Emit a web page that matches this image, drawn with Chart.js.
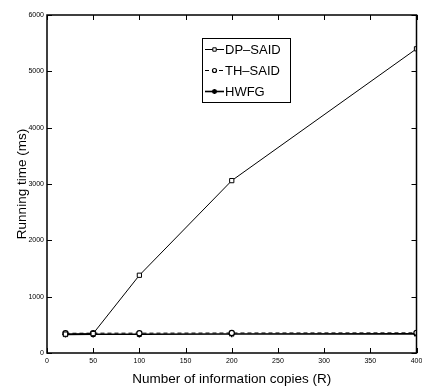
<!DOCTYPE html>
<html>
<head>
<meta charset="utf-8">
<script src="https://cdn.jsdelivr.net/npm/chart.js@4"></script>
<style>
  html, body { margin: 0; padding: 0; background: #fff; }
  #wrap { width: 422px; height: 387px; }
</style>
</head>
<body>
<div id="wrap"><canvas id="myChart" width="422" height="387"></canvas></div>
<script>
const copies = [20, 50, 100, 200, 400];
const dpSaid = [335, 345, 1380, 3060, 5400];
const thSaid = [350, 352, 352, 355, 358];
const hwfg = [330, 332, 333, 336, 340];
const xTicks = [0, 50, 100, 150, 200, 250, 300, 350, 400];
const yTicks = [0, 1000, 2000, 3000, 4000, 5000, 6000];

const FONT = 'Liberation Sans, Arial, sans-serif';

const toPoints = (ys) => copies.map((x, i) => ({x: x, y: ys[i]}));

const data = {
    datasets: [
        {
            label: 'DP\u2013SAID',
            data: toPoints(dpSaid),
            borderColor: '#000',
            backgroundColor: '#fff',
            borderWidth: 1,
            pointStyle: 'rect',
            pointRadius: 3,
            pointBorderWidth: 1,
        },
        {
            label: 'TH\u2013SAID',
            data: toPoints(thSaid),
            borderColor: '#000',
            backgroundColor: '#fff',
            borderWidth: 1,
            borderDash: [4, 3],
            pointStyle: 'circle',
            pointRadius: 2.6,
            pointBorderWidth: 1.2,
        },
        {
            label: 'HWFG',
            data: toPoints(hwfg),
            borderColor: '#000',
            backgroundColor: '#000',
            borderWidth: 1.6,
            pointStyle: 'star',
            pointRadius: 3.2,
            pointBorderWidth: 1.5,
        }
    ]
};

// inward tick marks on all four sides plus the closing box
const boxTicks = {
    id: 'boxTicks',
    afterDatasetsDraw(chart) {
        const {ctx, chartArea: a, scales: {x, y}} = chart;
        ctx.save();
        ctx.strokeStyle = '#000';
        ctx.lineWidth = 1;
        ctx.beginPath();
        xTicks.forEach(v => {
            const px = Math.round(x.getPixelForValue(v)) + 0.5;
            ctx.moveTo(px, a.bottom); ctx.lineTo(px, a.bottom - 5);
            ctx.moveTo(px, a.top); ctx.lineTo(px, a.top + 5);
        });
        yTicks.forEach(v => {
            const py = Math.round(y.getPixelForValue(v)) + 0.5;
            ctx.moveTo(a.left, py); ctx.lineTo(a.left + 5, py);
            ctx.moveTo(a.right, py); ctx.lineTo(a.right - 5, py);
        });
        ctx.stroke();
        ctx.lineWidth = 1.5;
        ctx.strokeRect(a.left, a.top, a.right - a.left, a.bottom - a.top);
        ctx.restore();
    }
};

// legend box drawn inside the plot area
const innerLegend = {
    id: 'innerLegend',
    afterDraw(chart) {
        const ctx = chart.ctx;
        const bx = 202, by = 38, bw = 88, bh = 64;
        ctx.save();
        ctx.fillStyle = '#fff';
        ctx.fillRect(bx, by, bw, bh);
        ctx.strokeStyle = '#000';
        ctx.lineWidth = 1;
        ctx.strokeRect(bx + 0.5, by + 0.5, bw, bh);
        chart.data.datasets.forEach((ds, i) => {
            const cy = by + 11.5 + i * 21;
            ctx.strokeStyle = '#000';
            ctx.lineWidth = ds.borderWidth;
            ctx.setLineDash(ds.borderDash || []);
            ctx.beginPath();
            ctx.moveTo(bx + 3, cy);
            ctx.lineTo(bx + 22, cy);
            ctx.stroke();
            ctx.setLineDash([]);
            ctx.lineWidth = ds.pointBorderWidth;
            ctx.fillStyle = ds.backgroundColor;
            Chart.helpers.drawPoint(ctx, {
                pointStyle: ds.pointStyle,
                radius: ds.pointRadius - 0.6,
                borderWidth: ds.pointBorderWidth,
                rotation: 0
            }, bx + 12.5, cy);
            ctx.fillStyle = '#000';
            ctx.font = '13px ' + FONT;
            ctx.textBaseline = 'middle';
            ctx.textAlign = 'left';
            ctx.fillText(ds.label, bx + 23, cy + 1);
        });
        ctx.restore();
    }
};

const config = {
    type: 'line',
    data: data,
    options: {
        responsive: false,
        animation: false,
        layout: {padding: {top: 15, right: 5, left: 13, bottom: 0}},
        plugins: {
            legend: {display: false},
            tooltip: {enabled: false}
        },
        scales: {
            x: {
                type: 'linear',
                min: 0,
                max: 400,
                afterBuildTicks: (s) => { s.ticks = xTicks.map(v => ({value: v})); },
                afterFit: (s) => { s.height = 34; s.paddingRight = 0; s.paddingLeft = 0; },
                grid: {display: false, drawTicks: false},
                border: {display: false},
                ticks: {
                    padding: 4,
                    maxRotation: 0,
                    autoSkip: false,
                    color: '#000',
                    font: {family: FONT, size: 7}
                },
                title: {
                    display: true,
                    text: 'Number of information copies (R)',
                    color: '#000',
                    padding: {top: 0, bottom: 0},
                    font: {family: FONT, size: 13.5}
                }
            },
            y: {
                min: 0,
                max: 6000,
                afterBuildTicks: (s) => { s.ticks = yTicks.map(v => ({value: v})); },
                afterFit: (s) => { s.width = 34; s.paddingTop = 0; s.paddingBottom = 0; },
                grid: {display: false, drawTicks: false},
                border: {display: false},
                ticks: {
                    padding: 3,
                    color: '#000',
                    font: {family: FONT, size: 7},
                    callback: (v) => String(v)
                },
                title: {
                    display: true,
                    text: 'Running time (ms)',
                    color: '#000',
                    padding: {top: 1, bottom: 4},
                    font: {family: FONT, size: 13.5}
                }
            }
        }
    },
    plugins: [boxTicks, innerLegend]
};

const myChart = new Chart(document.getElementById('myChart'), config);
</script>
</body>
</html>
